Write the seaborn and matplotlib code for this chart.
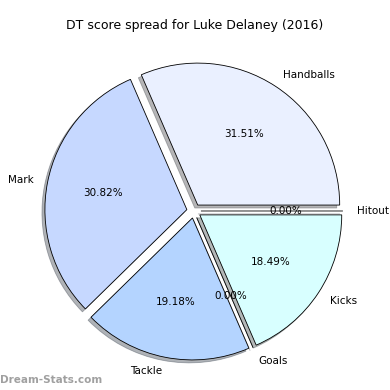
import matplotlib
matplotlib.use("Agg")
import matplotlib.pyplot as plt
import seaborn as sns

# DT points per stat (Luke Delaney, 2016)
categorias = ['Handballs', 'Mark', 'Tackle', 'Goals', 'Kicks', 'Hitout']
pontos = [46, 45, 28, 0, 27, 0]
cores = ['#eaf0ff', '#c6d8ff', '#b4d4ff', '#e0e8ff', '#d8ffff', '#d0e0ff']

sns.set_style('white')
plt.rcParams['font.family'] = ['DejaVu Sans']
plt.rcParams['text.color'] = 'black'

fig = plt.figure(figsize=(5.2, 5.2), dpi=75)
ax = fig.add_axes([0.042, 0.004, 0.91, 0.91])

ax.pie(pontos, labels=categorias, colors=cores, autopct='%.2f%%',
       explode=[0.05] * len(pontos), shadow={'alpha': 0.4}, startangle=0,
       wedgeprops={'edgecolor': 'black', 'linewidth': 0.8},
       textprops={'fontsize': 10, 'color': 'black'})
ax.set_xlim(-1.25, 1.25)
ax.set_ylim(-1.25, 1.25)
ax.set_aspect('equal')

fig.text(0.5, 0.935, 'DT score spread for Luke Delaney (2016)', ha='center', va='center', fontsize=12)
fig.text(0.0, 0.012, 'Dream-Stats.com', ha='left', va='bottom', fontsize=10,
         color='#a0a0a0', fontweight='bold')

fig.savefig('out.png', dpi=75)
